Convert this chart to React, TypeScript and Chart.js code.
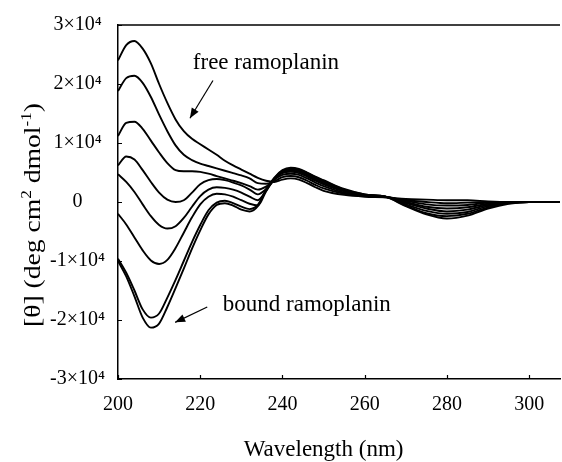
import React, { useEffect, useRef } from 'react';
import { Chart, registerables } from 'chart.js';

Chart.register(...registerables);

// Wavelength (nm)
const wavelengths = [200, 202, 204, 206, 208, 210, 212, 214, 216, 218, 220, 222, 224, 226, 228, 230, 232, 234, 236, 238, 240, 242, 244, 246, 248, 250, 255, 260, 265, 270, 275, 280, 285, 290, 295, 300, 305, 307.5];

// Molar ellipticity [θ] (deg cm² dmol⁻¹), free ramoplanin (top) → bound ramoplanin (bottom)
const curve1 = [24000, 26600, 27300, 26000, 23500, 20000, 16800, 14000, 12000, 10700, 9800, 8900, 8000, 7000, 6200, 5500, 4800, 4100, 3600, 3400, 3800, 4000, 3800, 3200, 2500, 1900, 1200, 900, 800, 500, 400, 300, 300, 100, 0, 0, 0, 0];
const curve2 = [18800, 21000, 21400, 20200, 17800, 14800, 12000, 9600, 8000, 7100, 6500, 6100, 5700, 5300, 4900, 4500, 4000, 3200, 3100, 3500, 4200, 4400, 4200, 3600, 2900, 2300, 1400, 1000, 800, 300, 0, -200, -100, 0, 0, 0, 0, 0];
const curve3 = [11200, 13400, 13600, 12400, 10400, 8400, 6600, 5400, 5200, 5200, 5100, 4800, 4400, 4000, 3600, 3200, 2700, 2100, 2600, 3800, 4600, 4800, 4600, 4000, 3300, 2700, 1600, 1100, 900, 200, -400, -600, -500, -100, 0, 0, 0, 0];
const curve4 = [6200, 7700, 7200, 5400, 3400, 1600, 400, 0, 300, 1600, 3000, 3700, 3900, 3700, 3300, 2800, 2100, 1300, 2200, 3800, 4900, 5100, 4900, 4300, 3600, 3000, 1800, 1100, 900, 0, -800, -1100, -900, -300, -100, 0, 0, 0];
const curve5 = [4700, 3400, 1700, -400, -2400, -3900, -4500, -4100, -2700, -800, 1000, 2100, 2500, 2400, 2100, 1600, 900, 300, 1900, 3800, 5000, 5300, 5100, 4500, 3800, 3200, 1900, 1200, 900, -200, -1100, -1600, -1300, -500, -100, 0, 0, 0];
const curve6 = [-2000, -3800, -6000, -8200, -9900, -10500, -9800, -7800, -5200, -2600, -400, 900, 1400, 1300, 900, 300, -300, -600, 1800, 3900, 5100, 5500, 5300, 4700, 4000, 3400, 2000, 1200, 900, -400, -1500, -2000, -1700, -700, -200, 0, 0, 0];
const curve7 = [-9600, -12000, -15000, -18200, -19600, -18900, -16200, -13200, -10000, -6800, -3900, -1400, -100, 200, -200, -800, -1200, -500, 2000, 4000, 5300, 5700, 5500, 4900, 4200, 3600, 2100, 1300, 900, -600, -1900, -2400, -2000, -900, -200, 0, 0, 0];
const curve8 = [-10000, -12600, -16000, -19600, -21300, -20600, -17800, -14600, -11300, -7900, -4800, -2100, -500, -200, -600, -1300, -1600, -700, 2000, 4100, 5400, 5800, 5600, 5000, 4300, 3700, 2200, 1300, 900, -700, -2100, -2800, -2300, -1100, -300, 0, 0, 0];

const curves = [curve1, curve2, curve3, curve4, curve5, curve6, curve7, curve8];

const xTickValues = [200, 220, 240, 260, 280, 300];
const yTickValues = [-30000, -20000, -10000, 0, 10000, 20000, 30000];
const yTickLabels = ['-3×10⁴', '-2×10⁴', '-1×10⁴', '0', '1×10⁴', '2×10⁴', '3×10⁴'];

const xTitle = 'Wavelength (nm)';
const yTitleParts = [
  { t: '[θ] (deg cm', sup: false },
  { t: '2', sup: true },
  { t: ' dmol', sup: false },
  { t: '-1', sup: true },
  { t: ')', sup: false },
];

// annotations in data coordinates
const freeLabel = { text: 'free ramoplanin', x: 218.2, y: 22600, fromX: 223.1, fromY: 20600, toX: 217.5, toY: 14200 };
const boundLabel = { text: 'bound ramoplanin', x: 225.5, y: -18400, fromX: 221.7, fromY: -17800, toX: 213.9, toY: -20400 };

const SERIF = '"Liberation Serif", "Times New Roman", Times, serif';

const decorPlugin = {
  id: 'decor',
  afterDraw(chart: any) {
    const { ctx, chartArea: ca, scales } = chart;
    const xs = scales.x;
    const ys = scales.y;
    ctx.save();
    ctx.strokeStyle = '#000';
    ctx.fillStyle = '#000';
    ctx.lineWidth = 1.5;
    ctx.beginPath();
    ctx.moveTo(ca.left, ca.top);
    ctx.lineTo(ca.right, ca.top);
    ctx.stroke();

    ctx.lineWidth = 1.2;
    ctx.beginPath();
    xs.ticks.forEach((t: any) => {
      const px = Math.round(xs.getPixelForValue(t.value)) + 0.5;
      ctx.moveTo(px, ca.bottom);
      ctx.lineTo(px, ca.bottom - 4);
    });
    ys.ticks.forEach((t: any) => {
      const py = Math.round(ys.getPixelForValue(t.value)) + 0.5;
      ctx.moveTo(ca.left, py);
      ctx.lineTo(ca.left + 4, py);
    });
    ctx.stroke();

    // x title
    ctx.font = `23px ${SERIF}`;
    ctx.textAlign = 'center';
    ctx.textBaseline = 'alphabetic';
    ctx.fillText(xTitle, (xs.getPixelForValue(200) + xs.getPixelForValue(300)) / 2, 456);

    // y title (rotated, with superscripts)
    const base = 24;
    const supSize = 15;
    ctx.save();
    ctx.translate(40, 215);
    ctx.rotate(-Math.PI / 2);
    ctx.scale(1.15, 1);
    let total = 0;
    yTitleParts.forEach((p) => {
      ctx.font = `${p.sup ? supSize : base}px ${SERIF}`;
      total += ctx.measureText(p.t).width;
    });
    let cx = -total / 2;
    ctx.textAlign = 'left';
    yTitleParts.forEach((p) => {
      ctx.font = `${p.sup ? supSize : base}px ${SERIF}`;
      ctx.fillText(p.t, cx, p.sup ? -9 : 0);
      cx += ctx.measureText(p.t).width;
    });
    ctx.restore();

    // annotations
    const drawArrow = (x1: number, y1: number, x2: number, y2: number) => {
      ctx.lineWidth = 1.2;
      ctx.beginPath();
      ctx.moveTo(x1, y1);
      ctx.lineTo(x2, y2);
      ctx.stroke();
      const ang = Math.atan2(y2 - y1, x2 - x1);
      const L = 10;
      const W = 4;
      ctx.beginPath();
      ctx.moveTo(x2, y2);
      ctx.lineTo(x2 - L * Math.cos(ang) + W * Math.sin(ang), y2 - L * Math.sin(ang) - W * Math.cos(ang));
      ctx.lineTo(x2 - L * Math.cos(ang) - W * Math.sin(ang), y2 - L * Math.sin(ang) + W * Math.cos(ang));
      ctx.closePath();
      ctx.fill();
    };
    [freeLabel, boundLabel].forEach((a) => {
      ctx.font = `23px ${SERIF}`;
      ctx.textAlign = 'left';
      ctx.textBaseline = 'alphabetic';
      ctx.fillText(a.text, xs.getPixelForValue(a.x), ys.getPixelForValue(a.y));
      drawArrow(
        xs.getPixelForValue(a.fromX), ys.getPixelForValue(a.fromY),
        xs.getPixelForValue(a.toX), ys.getPixelForValue(a.toY)
      );
    });
    ctx.restore();
  },
};

export default function App() {
  const ref = useRef<HTMLCanvasElement | null>(null);
  useEffect(() => {
    if (!ref.current) return;
    const datasets = curves.map((c, i) => ({
      label: `spectrum ${i + 1}`,
      data: wavelengths.map((w, j) => ({ x: w, y: c[j] })),
      borderColor: '#000',
      backgroundColor: '#000',
      borderWidth: 1.9,
      pointRadius: 0,
      fill: false,
      cubicInterpolationMode: 'monotone' as const,
    }));
    const chart = new Chart(ref.current, {
      type: 'line',
      data: { datasets },
      options: {
        animation: false,
        responsive: false,
        maintainAspectRatio: false,
        layout: { padding: { top: 21, right: 2, left: 0, bottom: 0 } },
        plugins: { legend: { display: false }, tooltip: { enabled: false } },
        scales: {
          x: {
            type: 'linear',
            min: 200,
            max: 307.5,
            afterFit: (s: any) => { s.height = 83; },
            afterBuildTicks: (s: any) => { s.ticks = xTickValues.map((v) => ({ value: v })); },
            grid: { display: false, drawTicks: false },
            border: { display: true, color: '#000', width: 1.5 },
            ticks: {
              color: '#000',
              font: { family: SERIF, size: 20 },
              padding: 14,
              maxRotation: 0,
              autoSkip: false,
              callback: (v: any) => String(v),
            },
          },
          y: {
            type: 'linear',
            min: -30000,
            max: 30000,
            afterFit: (s: any) => { s.width = 118; },
            afterBuildTicks: (s: any) => { s.ticks = yTickValues.map((v) => ({ value: v })); },
            grid: { display: false, drawTicks: false },
            border: { display: true, color: '#000', width: 1.5 },
            ticks: {
              color: '#000',
              font: { family: SERIF, size: 20 },
              padding: 13,
              crossAlign: 'center',
              autoSkip: false,
              callback: (v: any) => {
                const i = yTickValues.indexOf(Number(v));
                return i >= 0 ? yTickLabels[i] : '';
              },
            },
          },
        },
      },
      plugins: [decorPlugin],
    });
    return () => chart.destroy();
  }, []);
  return (
    <div style={{ position: 'fixed', left: 0, top: 0, width: 562, height: 462, background: '#fff' }}>
      <canvas ref={ref} width={562} height={462} style={{ width: 562, height: 462 }} />
    </div>
  );
}
